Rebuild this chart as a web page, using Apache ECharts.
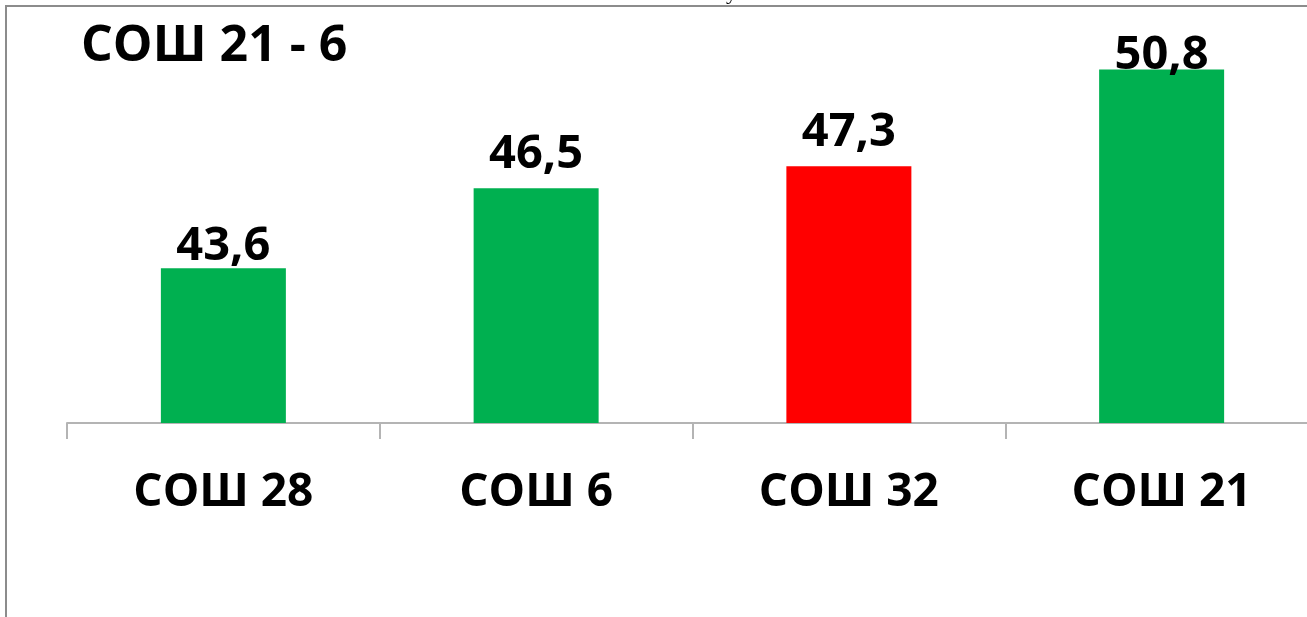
<!DOCTYPE html>
<html>
<head>
<meta charset="utf-8">
<script src="https://cdn.jsdelivr.net/npm/echarts@6/dist/echarts.min.js"></script>
<style>
  html, body { margin: 0; padding: 0; background: #fff; overflow: hidden; }
  /* a little wider than the window: the last category runs past the right edge */
  #chart { width: 1318px; height: 617px; }
</style>
</head>
<body>
<div id="chart"></div>
<script>
const categories = ['СОШ 28', 'СОШ 6', 'СОШ 32', 'СОШ 21']
const values = [43.6, 46.5, 47.3, 50.8]
const barColors = ['#00B050', '#00B050', '#FF0000', '#00B050']
const titleText = 'СОШ 21 - 6'

// labels were placed by hand in the original, not all at the same height
const labelDistance = [-2, 10, 10, -10]

const font = '"Open Sans", "Noto Sans", sans-serif'

const chart = echarts.init(document.getElementById('chart'))
chart.setOption({
    animation: false,
    backgroundColor: '#fff',
    title: {
        text: titleText,
        left: 76,
        top: 17,
        textStyle: { fontFamily: font, fontSize: 50, fontWeight: 'bold', color: '#000' }
    },
    grid: { left: 67, right: 0, top: 6, bottom: 194 },
    xAxis: {
        type: 'category',
        data: categories,
        axisLine: { lineStyle: { color: '#b4b4b4', width: 2 } },
        axisTick: { show: true, length: 16, lineStyle: { color: '#b4b4b4', width: 2 } },
        axisLabel: {
            margin: 47,
            fontFamily: font, fontSize: 46, fontWeight: 'bold', color: '#000'
        }
    },
    yAxis: {
        type: 'value',
        min: 38,
        max: 53.1,
        show: false,
        splitLine: { show: false }
    },
    series: [{
        type: 'bar',
        barWidth: 125,
        data: values.map((v, i) => ({
            value: v,
            itemStyle: { color: barColors[i] },
            label: { distance: labelDistance[i] }
        })),
        label: {
            show: true,
            position: 'top',
            formatter: p => String(p.value).replace('.', ','),
            fontFamily: font, fontSize: 47, fontWeight: 'bold', color: '#000'
        }
    }],
    graphic: [
        {
            type: 'polyline',
            shape: { points: [[6, 640], [6, 6], [1330, 6]] },
            style: { stroke: '#8c8c8c', lineWidth: 2, fill: null },
            z: 10
        },
        {
            type: 'text',
            left: 726,
            top: -18,
            style: { text: 'у', font: '22px "Liberation Serif", serif', fill: '#000' }
        }
    ]
})
</script>
</body>
</html>
